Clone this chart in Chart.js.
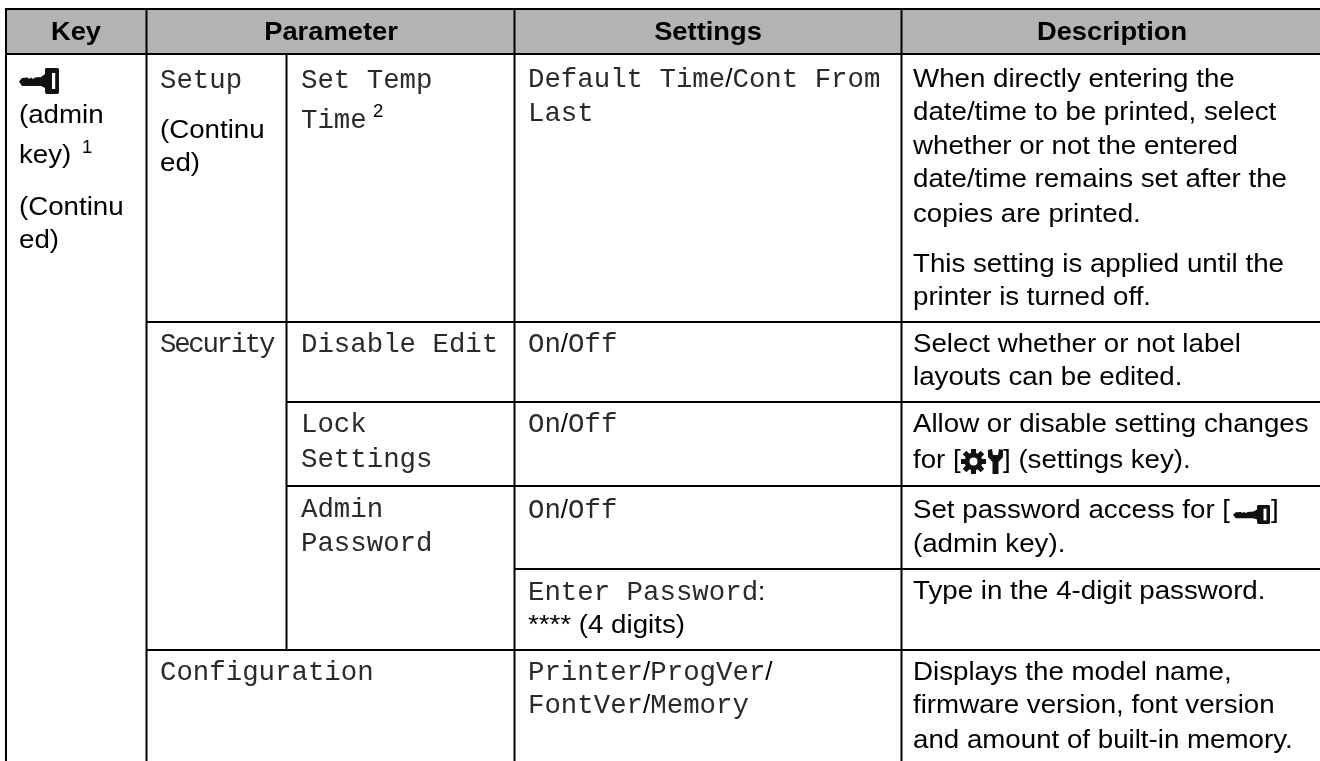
<!DOCTYPE html>
<html><head><meta charset="utf-8">
<style>html,body{margin:0;padding:0;background:#fff;overflow:hidden}canvas{display:block}</style>
<script src="https://cdn.jsdelivr.net/npm/chart.js@4/dist/chart.umd.min.js"></script>
</head><body><canvas id="c" width="1320" height="761"></canvas>
<script>
// ---- table text ----
const headers = ["Key","Parameter","Settings","Description"];
const keyLines = ["(admin","key)","(Continu","ed)"];
const footnotes = ["1","2"];
const setupLines = ["(Continu","ed)"];
const monoParameter = ["Setup","Set Temp","Time","Disable Edit","Lock","Settings","Admin","Password","Configuration"];
const monoSecurity = ["Security"];
const monoSettings = ["Default Time/Cont From","Last","On/Off","On/Off","On/Off","Enter Password:","Printer/ProgVer/","FontVer/Memory"];
const sansSettings = ["**** (4 digits)"];
const description = ["When directly entering the","date/time to be printed, select","whether or not the entered","date/time remains set after the","copies are printed.","This setting is applied until the","printer is turned off.","Select whether or not label","layouts can be edited.","Allow or disable setting changes","for [","] (settings key).","Set password access for [","]","(admin key).","Type in the 4-digit password.","Displays the model name,","firmware version, font version","and amount of built-in memory."];

// ---- layout (in scale units, equal to page pixels) ----
const L = {
  headerBox:[6,9,1320,54],
  rules:[[6,9,1320,9],[6,54,1320,54],[6,9,6,761],[146.5,9,146.5,761],[286.5,54,286.5,650],[514.5,9,514.5,761],[901.5,9,901.5,761],
         [146.5,322,1320,322],[286.5,402,1320,402],[286.5,486,1320,486],[514.5,569,1320,569],[146.5,650,1320,650]],
  headerAt:[[76,40],[331,40],[708,40],[1112,40]],
  keyAt:[[19,123],[19,163],[19,215],[19,248]],
  noteAt:[[82,153],[373,117]],
  setupAt:[[160,138],[160,171]],
  monoParamAt:[[160,88],[301,88],[301,128],[301,352],[301,432],[301,467],[301,517],[301,551],[160,680]],
  securityAt:[[160,352]],
  monoSetAt:[[528,87],[528,121],[528,352],[528,432],[528,518],[528,600],[528,680],[528,713]],
  sansSetAt:[[528,633]],
  descAt:[[913,87],[913,120],[913,154],[913,187],[913,222],[913,272],[913,305],[913,352],[913,385],[913,432],[913,468],[1003,468],[913,518],[1271,518],[913,552],[913,599],[913,680],[913,713],[913,748]],
  keyIcon:[[19,68,40,26],[1233,505,37,19]],
  gearIcon:[973.5,461.5],
  wrenchIcon:[988,449],
  fonts:{sans:'26px "Liberation Sans"',bold:'bold 26px "Liberation Sans"',mono:'27.4px "Liberation Mono"',note:'17.5px "Liberation Sans"'},
  sansX:1.065, boldX:1.05
};

const segs = [];
L.rules.forEach(r=>{segs.push({x:r[0],y:r[1]},{x:r[2],y:r[3]},{x:NaN,y:NaN});});

const tablePlugin = {
  id:'table',
  beforeDatasetsDraw(chart){
    const g=chart.ctx,X=chart.scales.x,Y=chart.scales.y,b=L.headerBox;
    g.save();g.fillStyle='#b3b3b3';
    g.fillRect(X.getPixelForValue(b[0]),Y.getPixelForValue(b[1]),X.getPixelForValue(b[2])-X.getPixelForValue(b[0]),Y.getPixelForValue(b[3])-Y.getPixelForValue(b[1]));
    g.restore();
  },
  afterDatasetsDraw(chart){
    const g=chart.ctx,X=chart.scales.x,Y=chart.scales.y;
    const px=v=>X.getPixelForValue(v),py=v=>Y.getPixelForValue(v);
    g.save();g.fillStyle='#000';g.textBaseline='alphabetic';
    const put=(t,x,y,font,sx,align,color)=>{
      g.save();g.font=font;g.fillStyle=color||'#000';g.textAlign=align||'left';
      g.translate(px(x),py(y));g.scale(sx||1,1);g.fillText(t,0,0);g.restore();
    };
    headers.forEach((t,i)=>put(t,L.headerAt[i][0],L.headerAt[i][1],L.fonts.bold,L.boldX,'center'));
    const sans=(arr,at)=>arr.forEach((t,i)=>put(t,at[i][0],at[i][1],L.fonts.sans,L.sansX));
    sans(keyLines,L.keyAt);sans(setupLines,L.setupAt);sans(description,L.descAt);sans(sansSettings,L.sansSetAt);
    footnotes.forEach((t,i)=>put(t,L.noteAt[i][0],L.noteAt[i][1],L.fonts.note,1.06));
    const mono=(t,x,y,sp)=>{
      g.save();g.letterSpacing=(sp||0)+'px';
      t.split(/([\/:])/).forEach(part=>{
        if(!part)return;
        const isS=part==='/'||part===':';
        g.font=isS?L.fonts.sans:L.fonts.mono;
        const w=g.measureText(part).width;
        put(part,x,y,isS?L.fonts.sans:L.fonts.mono,1,'left',isS?'#000':'#2a2a2a');
        x+=w;
      });
      g.restore();
    };
    monoParameter.forEach((t,i)=>mono(t,L.monoParamAt[i][0],L.monoParamAt[i][1]));
    monoSettings.forEach((t,i)=>mono(t,L.monoSetAt[i][0],L.monoSetAt[i][1]));
    monoSecurity.forEach((t,i)=>mono(t,L.securityAt[i][0],L.securityAt[i][1],-2.3));
    L.keyIcon.forEach(k=>{
      g.save();g.translate(px(k[0]),py(k[1]));g.scale(k[2]/40,k[3]/26);
      g.beginPath();
      g.moveTo(0,13.5);g.lineTo(3,10);g.lineTo(9,9.5);g.lineTo(10,11);g.lineTo(12,9.5);g.lineTo(14,11);g.lineTo(16,9.5);g.lineTo(22,9);
      g.lineTo(26,6);g.lineTo(26,1);g.lineTo(27,0);g.lineTo(39,0);g.lineTo(40,1.5);g.lineTo(40,24.5);g.lineTo(39,26);g.lineTo(27,26);g.lineTo(26,24);g.lineTo(26,20);g.lineTo(22,18);g.lineTo(3,18);g.closePath();
      g.fillStyle='#111';g.fill();
      g.fillStyle='#fff';g.fillRect(33,5,3.2,16);
      g.restore();
    });
    const [gx,gy]=L.gearIcon;
    g.save();g.translate(px(gx),py(gy));g.fillStyle='#111';
    for(let i=0;i<8;i++){g.save();g.rotate(i*Math.PI/4);g.fillRect(-2.4,-12.5,4.8,25);g.restore();}
    g.beginPath();g.arc(0,0,9,0,7);g.fill();
    g.fillStyle='#fff';g.beginPath();g.arc(0,0,4,0,7);g.fill();g.restore();
    const [wx,wy]=L.wrenchIcon;
    g.save();g.translate(px(wx),py(wy));g.fillStyle='#111';g.beginPath();
    g.moveTo(0,1);g.lineTo(4,0);g.lineTo(5,6);g.lineTo(10,6);g.lineTo(11,0);g.lineTo(15,1);g.lineTo(15,8);g.lineTo(10.5,13);g.lineTo(10.5,25);g.lineTo(4.5,25);g.lineTo(4.5,13);g.lineTo(0,8);g.closePath();g.fill();g.restore();
    g.restore();
  }
};

new Chart(document.getElementById('c').getContext('2d'),{
  type:'scatter',
  data:{datasets:[{data:segs,showLine:true,spanGaps:false,pointRadius:0,borderColor:'#000',borderWidth:2,borderCapStyle:'square',clip:false}]},
  options:{responsive:false,animation:false,devicePixelRatio:1,
    layout:{padding:0},
    plugins:{legend:{display:false},tooltip:{enabled:false},title:{display:false}},
    scales:{x:{type:'linear',display:false,min:0,max:1320},y:{type:'linear',display:false,min:0,max:761,reverse:true}}},
  plugins:[tablePlugin]
});
</script></body></html>
